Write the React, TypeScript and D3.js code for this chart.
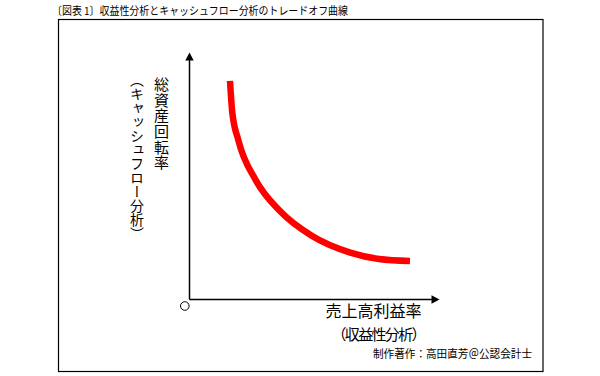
import React from "react";
import * as d3 from "d3";

// Curve data (abstract units: 売上高利益率 on x, 総資産回転率 on y)
const curveX = [16.2, 17.1, 19.6, 26.3, 36.2, 48.9, 64.3, 75.8, 88.2];
const curveY = [88.5, 75.9, 64.3, 48.7, 35.8, 25.8, 19.0, 16.4, 15.6];

const titleText = "〔図表 1〕収益性分析とキャッシュフロー分析のトレードオフ曲線";
const yLabel1 = "総資産回転率";
const yLabel2 = "（キャッシュフロー分析）";
const xLabel1 = "売上高利益率";
const xLabel2 = "（収益性分析）";
const creditText = "制作著作：高田直芳＠公認会計士";

const W = 600;
const H = 376;
const FONT = "'Noto Sans CJK JP', 'Noto Sans', sans-serif";

export default function App() {
  const x = d3.scaleLinear().domain([0, 100]).range([189.5, 439.5]);
  const y = d3.scaleLinear().domain([0, 100]).range([299.5, 52.5]);

  const pts: [number, number][] = curveX.map((v, i) => [x(v), y(curveY[i])]);
  const line = d3
    .line<[number, number]>()
    .x((d) => d[0])
    .y((d) => d[1])
    .curve(d3.curveMonotoneX);

  const ox = x(0);
  const oy = y(0);
  const xEnd = x(100);
  const yEnd = y(100);
  const ah = 8; // arrow head length
  const aw = 4.2; // half width

  return (
    <svg
      width={W}
      height={H}
      viewBox={`0 0 ${W} ${H}`}
      style={{ position: "absolute", left: 0, top: 0, background: "#fff" }}
      fontFamily={FONT}
    >
      <rect x={0} y={0} width={W} height={H} fill="#fff" />
      {/* title */}
      <text x={52} y={15} fontSize={11} textLength={296} lengthAdjust="spacingAndGlyphs" fill="#000">
        {titleText}
      </text>
      {/* frame */}
      <rect x={58.5} y={19.5} width={484.5} height={352} fill="none" stroke="#000" strokeWidth={1.2} />

      {/* axes */}
      <line x1={ox} y1={oy} x2={xEnd - ah + 1} y2={oy} stroke="#000" strokeWidth={1.5} />
      <line x1={ox} y1={oy} x2={ox} y2={yEnd + ah - 1} stroke="#000" strokeWidth={1.5} />
      <path
        d={`M${xEnd},${oy} L${xEnd - ah},${oy - aw} L${xEnd - ah},${oy + aw} Z`}
        fill="#000"
      />
      <path
        d={`M${ox},${yEnd} L${ox - aw},${yEnd + ah} L${ox + aw},${yEnd + ah} Z`}
        fill="#000"
      />
      {/* origin */}
      <circle cx={184.8} cy={306} r={4.3} fill="none" stroke="#000" strokeWidth={1} />

      {/* curve */}
      <path d={line(pts) || ""} fill="none" stroke="#ff0000" strokeWidth={6.5} strokeLinecap="butt" />

      {/* y labels (vertical) */}
      <text
        x={161.5}
        y={77}
        fontSize={15}
        fill="#000"
        textLength={93}
        lengthAdjust="spacing"
        style={{ writingMode: "vertical-rl" as any }}
      >
        {yLabel1}
      </text>
      <text
        x={137}
        y={73}
        fontSize={14}
        fill="#000"
        textLength={168}
        lengthAdjust="spacing"
        style={{ writingMode: "vertical-rl" as any }}
      >
        {yLabel2}
      </text>

      {/* x labels */}
      <text x={373.5} y={317} fontSize={16} textAnchor="middle" fill="#000">
        {xLabel1}
      </text>
      <text x={379} y={340} fontSize={15} textAnchor="middle" textLength={95} lengthAdjust="spacing" fill="#000">
        {xLabel2}
      </text>

      {/* credit */}
      <text x={373} y={358} fontSize={11} textLength={159} lengthAdjust="spacingAndGlyphs" fill="#000">
        {creditText}
      </text>
    </svg>
  );
}
